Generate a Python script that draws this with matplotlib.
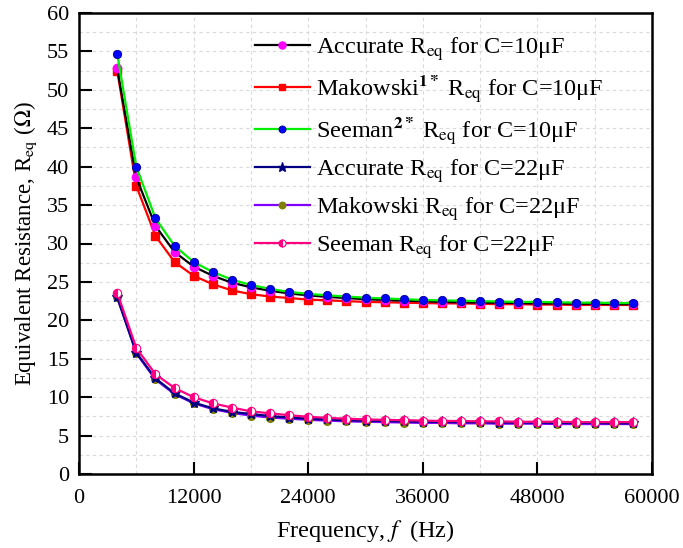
import matplotlib
matplotlib.use("Agg")
import matplotlib.pyplot as plt
from matplotlib.ticker import MultipleLocator

plt.rcParams['font.family'] = ['Liberation Serif', 'DejaVu Serif']
plt.rcParams['mathtext.fontset'] = 'stix'

# Switching frequency (Hz)
freq = list(range(4000, 60000, 2000))

# Equivalent resistance (ohm), C = 10 uF
accurate_10 = [52.8, 38.6, 32.3, 28.9, 27.0, 25.8, 24.9, 24.3, 23.85, 23.5,
               23.25, 23.05, 22.9, 22.75, 22.65, 22.55, 22.5, 22.4, 22.35, 22.3,
               22.3, 22.25, 22.2, 22.2, 22.15, 22.15, 22.1, 22.1]
makowski_10 = [52.5, 37.5, 31.0, 27.6, 25.8, 24.7, 23.9, 23.4, 23.1, 22.9,
               22.7, 22.6, 22.5, 22.4, 22.35, 22.3, 22.25, 22.2, 22.2, 22.15,
               22.1, 22.1, 22.05, 22.05, 22.0, 22.0, 22.0, 22.0]
seeman_10 = [54.7, 40.0, 33.3, 29.7, 27.6, 26.3, 25.3, 24.6, 24.1, 23.7,
             23.45, 23.25, 23.1, 22.95, 22.85, 22.75, 22.65, 22.6, 22.55, 22.5,
             22.45, 22.4, 22.4, 22.35, 22.3, 22.3, 22.25, 22.25]

# Equivalent resistance (ohm), C = 22 uF
accurate_22 = [23.0, 15.8, 12.45, 10.5, 9.3, 8.55, 8.1, 7.8, 7.55, 7.35,
               7.2, 7.1, 7.0, 6.95, 6.9, 6.85, 6.8, 6.8, 6.75, 6.75,
               6.7, 6.7, 6.7, 6.65, 6.65, 6.65, 6.6, 6.6]
makowski_22 = [23.0, 15.7, 12.3, 10.4, 9.2, 8.45, 7.95, 7.6, 7.35, 7.2,
               7.05, 6.95, 6.85, 6.8, 6.75, 6.7, 6.65, 6.65, 6.6, 6.6,
               6.55, 6.55, 6.55, 6.5, 6.5, 6.5, 6.5, 6.5]
seeman_22 = [23.6, 16.4, 13.0, 11.2, 10.0, 9.2, 8.65, 8.15, 7.9, 7.65,
             7.45, 7.3, 7.2, 7.1, 7.05, 7.0, 6.95, 6.9, 6.9, 6.85,
             6.85, 6.8, 6.8, 6.8, 6.75, 6.75, 6.75, 6.75]

labels = [
    r'Accurate R$_{\mathrm{eq}}$ for C=10μF',
    r'Makowski$^{\mathbf{1*}}$ R$_{\mathrm{eq}}$ for C=10μF',
    r'Seeman$^{\mathbf{2*}}$ R$_{\mathrm{eq}}$ for C=10μF',
    r'Accurate R$_{\mathrm{eq}}$ for C=22μF',
    r'Makowski R$_{\mathrm{eq}}$ for C=22μF',
    r'Seeman R$_{\mathrm{eq}}$ for C=22μF',
]

fig = plt.figure(figsize=(6.83, 5.48), dpi=100)
ax = fig.add_axes([79 / 683, 74 / 548, 573 / 683, 461 / 548])

lw = 1.6
ax.plot(freq, accurate_10, color='black', lw=lw, marker='o', ms=6,
        mfc='#FF00FF', mec='#FF00FF', label=labels[0], zorder=4)
ax.plot(freq, makowski_10, color='#FF0000', lw=lw, marker='s', ms=5.5,
        mfc='#FF0000', mec='#FF0000', label=labels[1], zorder=3)
ax.plot(freq, seeman_10, color='#00EE00', lw=lw, marker='o', ms=6,
        mfc='#0000FF', mec='#00008B', mew=0.6, label=labels[2], zorder=5)
ax.plot(freq, accurate_22, color='#000080', lw=lw, marker='*', ms=8,
        mfc='#000080', mec='#000080', label=labels[3], zorder=4)
ax.plot(freq, makowski_22, color='#8000FF', lw=lw, marker='o', ms=5.5,
        mfc='#808000', mec='#808000', label=labels[4], zorder=3)
ax.plot(freq, seeman_22, color='#FF0080', lw=lw, marker='o', ms=6,
        fillstyle='left', mfc='#FF0080', mfcalt='white', mec='#FF0080',
        mew=0.8, label=labels[5], zorder=5)

ax.set_xlim(0, 60000)
ax.set_ylim(0, 60)
ax.xaxis.set_major_locator(MultipleLocator(12000))
ax.xaxis.set_minor_locator(MultipleLocator(6000))
ax.yaxis.set_major_locator(MultipleLocator(5))
ax.yaxis.set_minor_locator(MultipleLocator(2.5))

ax.grid(which='both', color='#D9D9D9', linestyle=(0, (3, 3)), linewidth=0.8)
ax.set_axisbelow(True)
ax.tick_params(which='major', direction='in', length=9, width=1.5,
               labelsize=16, top=False, right=False)
ax.tick_params(axis='x', which='major', pad=11)
ax.tick_params(axis='y', which='major', pad=7)
ax.tick_params(which='minor', length=0)
for s in ax.spines.values():
    s.set_linewidth(1.8)

ax.set_xlabel(r'Frequency, $f\ $ (Hz)', fontsize=17.5, labelpad=7)
ax.set_ylabel(r'Equivalent Resistance, R$_{\mathrm{eq}}$ ($\Omega$)',
              fontsize=16.5, labelpad=6)

leg = ax.legend(loc='upper left', bbox_to_anchor=(255 / 683, 1 - 35 / 548),
                bbox_transform=fig.transFigure, frameon=False, fontsize=17.5,
                handlelength=2.25, handletextpad=0.25, labelspacing=0.42,
                markerscale=0.85, borderaxespad=0, borderpad=0)

fig.savefig('out.png', dpi=100)
